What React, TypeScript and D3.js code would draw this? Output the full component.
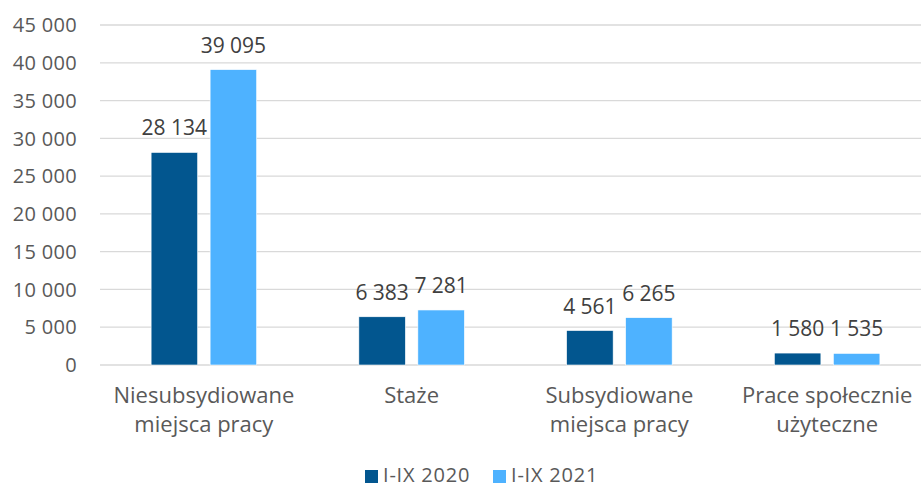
import React from "react";
import * as d3 from "d3";

const categories = [
  ["Niesubsydiowane", "miejsca pracy"],
  ["Staże"],
  ["Subsydiowane", "miejsca pracy"],
  ["Prace społecznie", "użyteczne"],
];
const seriesNames = ["I-IX 2020", "I-IX 2021"];
const values2020 = [28134, 6383, 4561, 1580];
const values2021 = [39095, 7281, 6265, 1535];
const yTicks = [0, 5000, 10000, 15000, 20000, 25000, 30000, 35000, 40000, 45000];
const colors = ["#02568F", "#4EB2FF"];

const W = 921;
const H = 487;
const FONT = "'Open Sans', sans-serif";

const fmt = (v: number) => {
  const s = String(v);
  return s.replace(/\B(?=(\d{3})+(?!\d))/g, " ");
};

export default function App() {
  const x = d3.scaleBand<number>().domain(d3.range(categories.length)).range([100, 931]).padding(0);
  const y = d3.scaleLinear().domain([0, 45000]).range([365, 25]);
  const bw = x.bandwidth();
  const barW = bw * 0.224;
  const gap = bw * 0.06;
  const pairW = barW * 2 + gap;
  const series = [values2020, values2021];

  return (
    <svg width={W} height={H} style={{ position: "absolute", left: 0, top: 0, background: "#fff" }} fontFamily={FONT}>
      {yTicks.map((t) => (
        <g key={t}>
          <line x1={100} x2={W} y1={y(t)} y2={y(t)} stroke="#D9D9D9" strokeWidth={1.3} />
          <text x={77} y={y(t)} dy="0.36em" textAnchor="end" fontSize={20} fill="#595959" letterSpacing={0.3}>
            {fmt(t)}
          </text>
        </g>
      ))}
      {categories.map((c, i) => {
        const cx = (x(i) as number) + bw / 2;
        return (
          <g key={i}>
            {series.map((vals, s) => {
              const bx = cx - pairW / 2 + s * (barW + gap);
              const v = vals[i];
              return (
                <g key={s}>
                  <rect x={bx} y={y(v)} width={barW} height={y(0) - y(v)} fill={colors[s]} stroke="#fff" strokeWidth={0.6} />
                  <text x={bx + barW / 2} y={y(v) - 17} textAnchor="middle" fontSize={21} fill="#404040">
                    {fmt(v)}
                  </text>
                </g>
              );
            })}
            {c.map((line, k) => (
              <text key={k} x={cx} y={403 + k * 29} textAnchor="middle" fontSize={22} fill="#595959">
                {line}
              </text>
            ))}
          </g>
        );
      })}
      {seriesNames.map((n, s) => {
        const lx = [365, 493][s];
        return (
          <g key={n}>
            <rect x={lx} y={470} width={13} height={13} fill={colors[s]} />
            <text x={lx + 18} y={482} fontSize={20} fill="#595959" letterSpacing={0.8}>
              {n}
            </text>
          </g>
        );
      })}
    </svg>
  );
}
